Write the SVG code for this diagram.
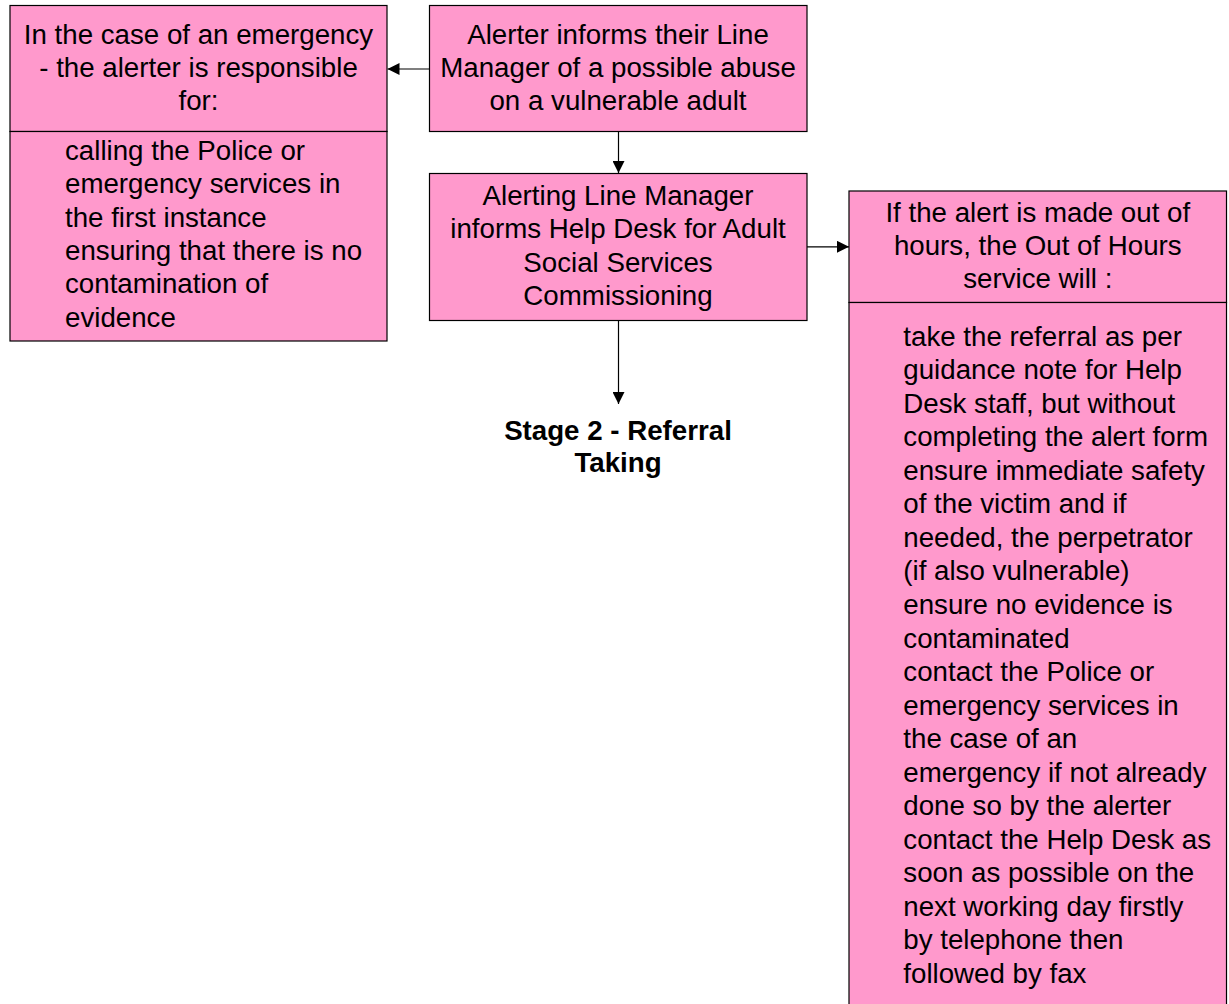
<svg xmlns="http://www.w3.org/2000/svg" width="1229" height="1004" viewBox="0 0 1229 1004">
  <style>
    .box { fill: #FF99CC; stroke: #000; stroke-width: 1.2; }
    .t { font-family: "Liberation Sans", Arial, sans-serif; font-size: 27.7px; fill: #000; }
    .c { text-anchor: middle; }
    .b { font-weight: bold; }
    .wire { stroke: #000; stroke-width: 1.2; fill: none; }
  </style>
  <defs>
    <marker id="arrow" viewBox="0 0 12 12" refX="12" refY="6" markerWidth="12" markerHeight="12" markerUnits="userSpaceOnUse" orient="auto">
      <path d="M0,0 L12,6 L0,12 Z" fill="#000"/>
    </marker>
  </defs>
  <rect width="1229" height="1004" fill="#fff"/>

  <!-- Emergency responsibilities of the alerter -->
  <g id="emergency">
    <rect class="box" x="10" y="5.5" width="377" height="126"/>
    <rect class="box" x="10" y="131.5" width="377" height="209.5"/>
    <text class="t c" x="198.5" y="43.5">In the case of an emergency</text>
    <text class="t c" x="198.5" y="76.8">- the alerter is responsible</text>
    <text class="t c" x="198.5" y="110">for:</text>
    <text class="t" x="65" y="160">calling the Police or</text>
    <text class="t" x="65" y="193.3">emergency services in</text>
    <text class="t" x="65" y="226.6">the first instance</text>
    <text class="t" x="65" y="259.9">ensuring that there is no</text>
    <text class="t" x="65" y="293.2">contamination of</text>
    <text class="t" x="65" y="326.5">evidence</text>
  </g>

  <!-- Alerter informs line manager -->
  <g id="alerter">
    <rect class="box" x="429.5" y="5.5" width="377.5" height="126"/>
    <text class="t c" x="618" y="43.5">Alerter informs their Line</text>
    <text class="t c" x="618" y="76.8">Manager of a possible abuse</text>
    <text class="t c" x="618" y="110">on a vulnerable adult</text>
  </g>

  <!-- Line manager informs Help Desk -->
  <g id="line-manager">
    <rect class="box" x="429.5" y="173.5" width="377.5" height="147"/>
    <text class="t c" x="618" y="204.5">Alerting Line Manager</text>
    <text class="t c" x="618" y="238">informs Help Desk for Adult</text>
    <text class="t c" x="618" y="271.5">Social Services</text>
    <text class="t c" x="618" y="305">Commissioning</text>
  </g>

  <!-- Next stage label -->
  <g id="stage2">
    <text class="t c b" x="618" y="439.5">Stage 2 - Referral</text>
    <text class="t c b" x="618" y="472">Taking</text>
  </g>

  <!-- Out of hours service -->
  <g id="out-of-hours">
    <rect class="box" x="849" y="191" width="377.5" height="111.5"/>
    <rect class="box" x="849" y="302.5" width="377.5" height="710"/>
    <text class="t c" x="1037.8" y="221.8">If the alert is made out of</text>
    <text class="t c" x="1037.8" y="255">hours, the Out of Hours</text>
    <text class="t c" x="1037.8" y="288">service will :</text>
    <text class="t" x="903.3" y="345.5">take the referral as per</text>
    <text class="t" x="903.3" y="379.1">guidance note for Help</text>
    <text class="t" x="903.3" y="412.6">Desk staff, but without</text>
    <text class="t" x="903.3" y="446.2">completing the alert form</text>
    <text class="t" x="903.3" y="479.7">ensure immediate safety</text>
    <text class="t" x="903.3" y="513.3">of the victim and if</text>
    <text class="t" x="903.3" y="546.8">needed, the perpetrator</text>
    <text class="t" x="903.3" y="580.4">(if also vulnerable)</text>
    <text class="t" x="903.3" y="613.9">ensure no evidence is</text>
    <text class="t" x="903.3" y="647.5">contaminated</text>
    <text class="t" x="903.3" y="681">contact the Police or</text>
    <text class="t" x="903.3" y="714.6">emergency services in</text>
    <text class="t" x="903.3" y="748.1">the case of an</text>
    <text class="t" x="903.3" y="781.7">emergency if not already</text>
    <text class="t" x="903.3" y="815.2">done so by the alerter</text>
    <text class="t" x="903.3" y="848.8">contact the Help Desk as</text>
    <text class="t" x="903.3" y="882.3">soon as possible on the</text>
    <text class="t" x="903.3" y="915.9">next working day firstly</text>
    <text class="t" x="903.3" y="949.4">by telephone then</text>
    <text class="t" x="903.3" y="983">followed by fax</text>
  </g>

  <!-- Connectors -->
  <g id="connectors">
    <line class="wire" x1="429.5" y1="69" x2="387.5" y2="69" marker-end="url(#arrow)"/>
    <line class="wire" x1="618.5" y1="131.5" x2="618.5" y2="173" marker-end="url(#arrow)"/>
    <line class="wire" x1="807" y1="246.8" x2="849" y2="246.8" marker-end="url(#arrow)"/>
    <line class="wire" x1="618.5" y1="320.5" x2="618.5" y2="404" marker-end="url(#arrow)"/>
  </g>
</svg>
